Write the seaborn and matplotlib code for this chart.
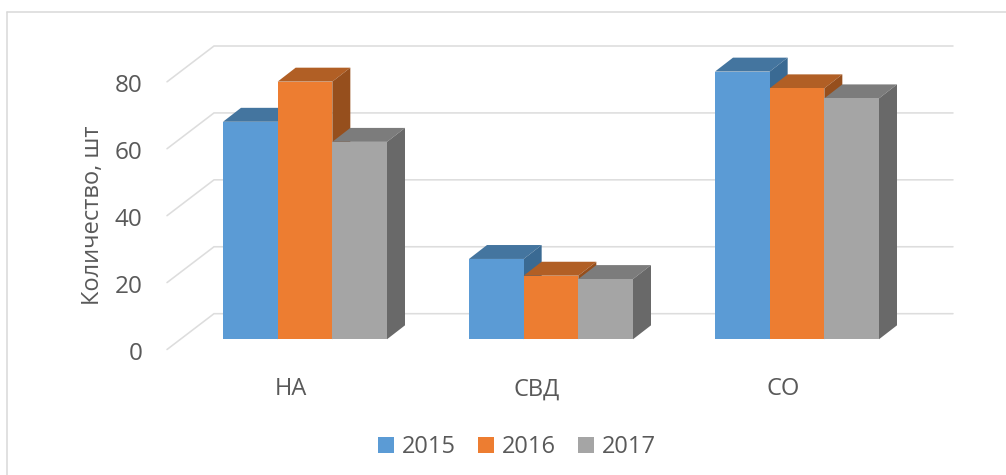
import pandas as pd
import numpy as np
import matplotlib
matplotlib.use('Agg')
import matplotlib.pyplot as plt
from matplotlib.lines import Line2D
from matplotlib.patches import Patch
import seaborn as sns

# Values
groups = ['НА', 'СВД', 'СО']
years = ['2015', '2016', '2017']
values_2015 = [65, 24, 80]
values_2016 = [77, 19, 75]
values_2017 = [59, 18, 72]
y_ticks = [0, 20, 40, 60, 80]

front_colors = ['#5B9BD5', '#ED7D31', '#A5A5A5']
top_colors = ['#44759F', '#B15F25', '#7C7C7C']
side_colors = ['#3A6A93', '#964F1D', '#696969']
text_color = '#595959'
grid_color = '#DDDDDD'

W, H = 1006, 475
px_per_cat = 246.0
px_per_unit = 3.3625
cat0_px = 305.0
base_px = 340.7

df = pd.DataFrame({
    'group': groups * 3,
    'year': np.repeat(years, 3),
    'value': values_2015 + values_2016 + values_2017,
})

sns.set_style('white')
plt.rcParams['font.family'] = ['Open Sans', 'DejaVu Sans']

fig = plt.figure(figsize=(W / 100, H / 100), dpi=100)
ax = fig.add_axes([167 / W, (H - 351) / H, (953 - 167) / W, (351 - 46) / H])

sns.barplot(data=df, x='group', y='value', hue='year', palette=front_colors, saturation=1,
            width=164 / px_per_cat, gap=0, legend=False, linewidth=0, ax=ax,
            order=groups, hue_order=years)

ax.set_xlim((167 - cat0_px) / px_per_cat, (953 - cat0_px) / px_per_cat)
ax.set_ylim((base_px - 351) / px_per_unit, (base_px - 46) / px_per_unit)

# 3D look: offsets of the bar depth and of the back wall, in data units
depth_x = 18 / px_per_cat
depth_y = 14 / px_per_unit
wall_x = (214 - cat0_px) / px_per_cat
wall_end = (953 - cat0_px) / px_per_cat
wall_shift = (base_px - 315) / px_per_unit
front_shift = (base_px - 351) / px_per_unit
floor_x = (167 - cat0_px) / px_per_cat

for v in y_ticks:
    ax.plot([floor_x, wall_x, wall_end], [v + front_shift, v + wall_shift, v + wall_shift],
            color=grid_color, lw=1.15, zorder=1, clip_on=False, solid_joinstyle='miter')

# side and top faces, left to right so that nearer bars overlap correctly
bars = []
for c, container in enumerate(ax.containers):
    for patch in container:
        bars.append((patch.get_x(), c, patch))
bars.sort(key=lambda b: b[0])

for i, (x0, c, patch) in enumerate(bars):
    x1 = x0 + patch.get_width()
    top = patch.get_height()
    z = 3 + i
    ax.fill([x0, x0 + depth_x, x1 + depth_x, x1], [top, top + depth_y, top + depth_y, top],
            color=top_colors[c], lw=0, zorder=z, clip_on=False)
    ax.fill([x1, x1 + depth_x, x1 + depth_x, x1], [0, depth_y, top + depth_y, top],
            color=side_colors[c], lw=0, zorder=z, clip_on=False)
    patch.set_zorder(z + 0.5)

sns.despine(ax=ax, left=True, bottom=True)
ax.set_xlabel('')
ax.set_ylabel('Количество, шт', fontsize=17, color=text_color, labelpad=7, y=0.444)
# labels sit a little below the floor ticks in the reference
ax.set_yticks([v + front_shift - 1.5 / px_per_unit for v in y_ticks])
ax.set_yticklabels([str(v) for v in y_ticks])
ax.set_xticks([i - 14 / px_per_cat for i in range(len(groups))])
ax.set_xticklabels(groups)
ax.tick_params(axis='y', length=0, pad=17.5, labelsize=17.5, labelcolor=text_color)
ax.tick_params(axis='x', length=0, pad=19, labelsize=17, labelcolor=text_color)

# legend
handles = [Patch(facecolor=col, edgecolor='none', label=y) for col, y in zip(front_colors, years)]
fig.legend(handles=handles, loc='center', bbox_to_anchor=(517 / W, (H - 447) / H), ncol=3,
           frameon=False, fontsize=17, labelcolor=text_color, handlelength=0.68, handleheight=0.68,
           handletextpad=0.32, columnspacing=0.95, borderpad=0, borderaxespad=0)

# chart frame: only top and left edges are in the crop
fig.add_artist(Line2D([7 / W, 7 / W], [0, (H - 12) / H], color='#D9D9D9', lw=1.1))
fig.add_artist(Line2D([7 / W, 1], [(H - 12) / H, (H - 12) / H], color='#D9D9D9', lw=1.1))

fig.savefig('out.png', dpi=100)
